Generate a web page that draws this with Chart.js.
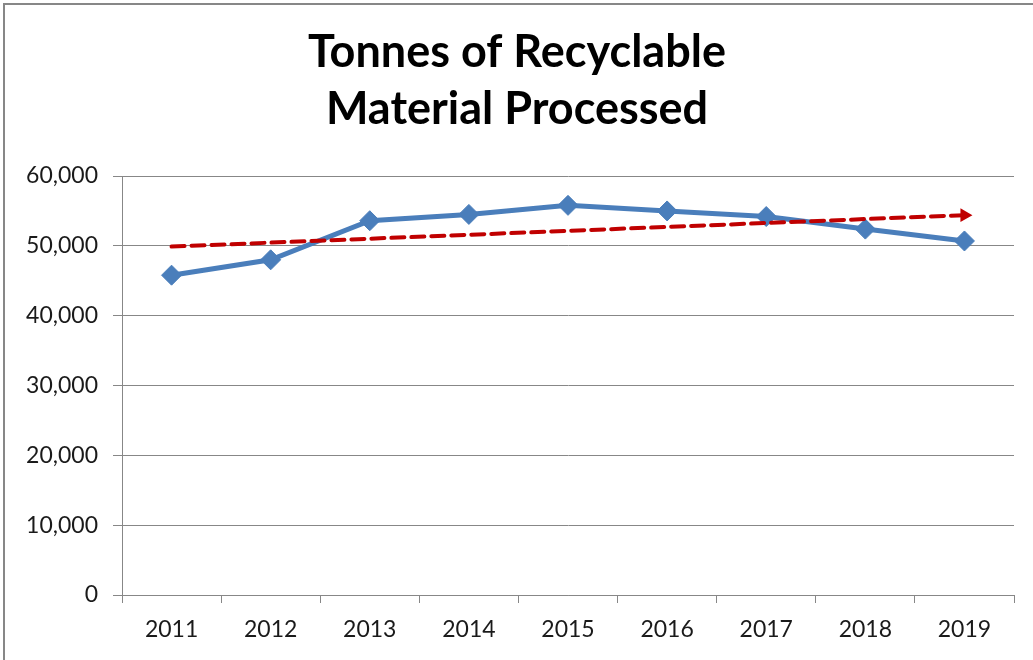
<!DOCTYPE html>
<html>
<head>
<meta charset="utf-8">
<script src="https://cdn.jsdelivr.net/npm/chart.js@4"></script>
<style>
  html, body { margin: 0; padding: 0; background: #fff; }
  #wrap { width: 1033px; height: 660px; position: relative; }
</style>
</head>
<body>
<div id="wrap"><canvas id="recycleChart" width="1033" height="660"></canvas></div>
<script>
// Data
const years = ['2011', '2012', '2013', '2014', '2015', '2016', '2017', '2018', '2019'];
const tonnes = [45800, 48000, 53600, 54500, 55800, 55000, 54200, 52400, 50700];
const trendStart = 49900;
const trendEnd = 54400;
const trend = years.map((y, i) => i === 0 ? trendStart : (i === years.length - 1 ? trendEnd : null));

// Grey frame round the chart (only top and left edges are visible)
const framePlugin = {
    id: 'frame',
    beforeDraw(chart) {
        const c = chart.ctx;
        c.save();
        c.fillStyle = '#ffffff';
        c.fillRect(0, 0, chart.width, chart.height);
        c.strokeStyle = '#878787';
        c.lineWidth = 2;
        c.beginPath();
        c.moveTo(4, chart.height);
        c.lineTo(4, 4);
        c.lineTo(chart.width, 4);
        c.stroke();
        c.restore();
    }
};

const ctx = document.getElementById('recycleChart').getContext('2d');
new Chart(ctx, {
    type: 'line',
    data: {
        labels: years,
        datasets: [
            {
                label: 'Trend',
                data: trend,
                spanGaps: true,
                borderColor: '#c00000',
                backgroundColor: '#c00000',
                borderWidth: 4,
                borderDash: [13, 7],
                borderCapStyle: 'round',
                pointStyle: 'triangle',
                pointRotation: 90,
                pointRadius: (c) => c.dataIndex === years.length - 1 ? 8 : 0,
                pointBorderWidth: 0,
                tension: 0
            },
            {
                label: 'Tonnes',
                data: tonnes,
                borderColor: '#4a7ebb',
                backgroundColor: '#4a7ebb',
                borderWidth: 5,
                pointStyle: 'rectRot',
                pointRadius: 10,
                pointBorderWidth: 1,
                pointBorderColor: '#4a7ebb',
                tension: 0
            }
        ]
    },
    options: {
        responsive: false,
        animation: false,
        layout: {
            padding: { left: 20, right: 19, top: 0, bottom: 0 }
        },
        plugins: {
            legend: { display: false },
            tooltip: { enabled: false },
            title: {
                display: true,
                text: ['Tonnes of Recyclable', 'Material Processed'],
                color: '#000000',
                font: { family: 'Lato', size: 45, weight: 'bold', lineHeight: 1.267 },
                padding: { top: 24, bottom: 38 }
            }
        },
        scales: {
            x: {
                offset: true,
                grid: {
                    display: true,
                    offset: true,
                    drawOnChartArea: false,
                    drawTicks: true,
                    tickLength: 8,
                    color: '#878787'
                },
                border: { color: '#878787', width: 1 },
                ticks: {
                    color: '#1a1a1a',
                    font: { family: 'Lato', size: 23 },
                    padding: 13,
                    maxRotation: 0
                },
                afterFit(scale) { scale.height = 65; }
            },
            y: {
                min: 0,
                max: 60000,
                grid: {
                    color: '#878787',
                    tickLength: 9
                },
                border: { color: '#878787', width: 1 },
                ticks: {
                    stepSize: 10000,
                    color: '#1a1a1a',
                    font: { family: 'Lato', size: 23 },
                    padding: 15,
                    callback: (v) => v.toLocaleString('en-US')
                },
                afterFit(scale) { scale.width = 102; }
            }
        }
    },
    plugins: [framePlugin]
});
</script>
</body>
</html>
